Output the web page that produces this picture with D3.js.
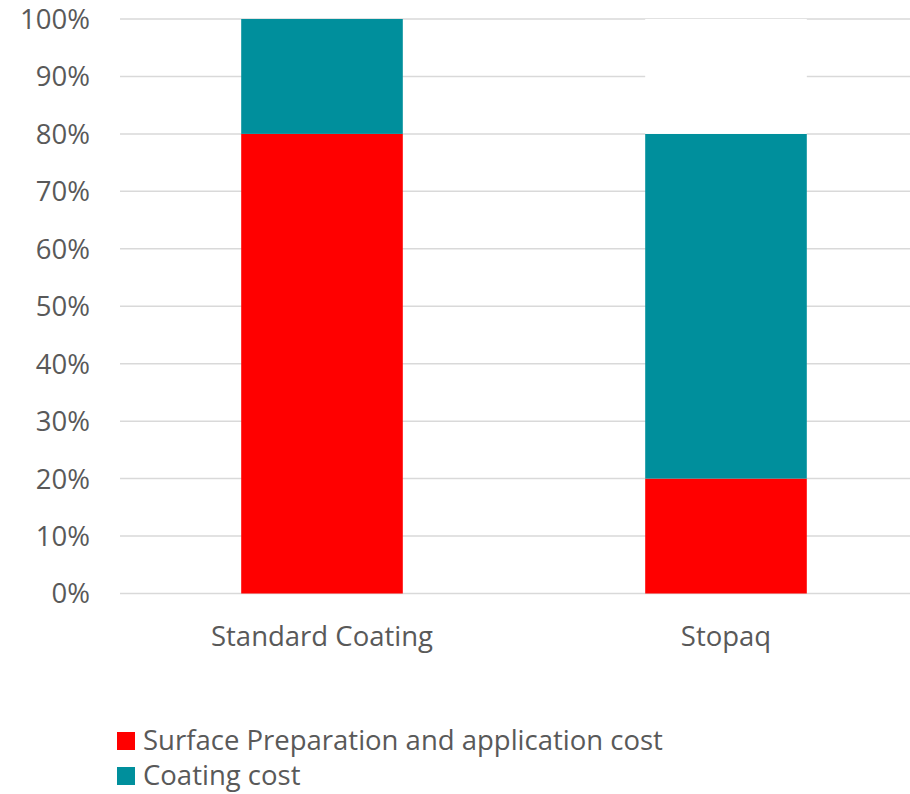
<!DOCTYPE html>
<html>
<head>
<meta charset="utf-8">
<script src="https://cdn.jsdelivr.net/npm/d3@7"></script>
<style>
  body { margin: 0; background: #fff; }
  svg { display: block; font-family: "Open Sans", sans-serif; }
</style>
</head>
<body>
<div id="chart"></div>
<script>
// ========================
// Data
// ========================
const categories = ["Standard Coating", "Stopaq"];
const surfacePrep = [0.8, 0.2];   // Surface Preparation and application cost
const coatingCost = [0.2, 0.6];   // Coating cost
const blankPart = [0, 0.2];       // unlabeled white filler up to 100%
const yTicks = [0, 0.1, 0.2, 0.3, 0.4, 0.5, 0.6, 0.7, 0.8, 0.9, 1.0];

const seriesNames = ["Surface Preparation and application cost", "Coating cost", "blank"];
const seriesColors = ["#ff0000", "#008f9c", "#ffffff"];

// ========================
// Setup
// ========================
const width = 910, height = 794;
const fontSize = "27.5px";
const svg = d3.select("#chart").append("svg")
    .attr("width", width)
    .attr("height", height);

const x = d3.scaleBand()
    .domain(categories)
    .range([120, 928])
    .paddingInner(0.6)
    .paddingOuter(0.3);

const y = d3.scaleLinear()
    .domain([0, 1])
    .range([593.5, 19]);

// table for the stack
const table = categories.map((c, i) => ({
    category: c,
    "Surface Preparation and application cost": surfacePrep[i],
    "Coating cost": coatingCost[i],
    "blank": blankPart[i]
}));
const stacked = d3.stack().keys(seriesNames)(table);

// --- Gridlines ---
svg.append("g")
    .selectAll("line")
    .data(yTicks)
    .join("line")
    .attr("x1", 120).attr("x2", width)
    .attr("y1", d => y(d)).attr("y2", d => y(d))
    .attr("stroke", "#d9d9d9")
    .attr("stroke-width", 1.5);

// --- Y tick labels ---
svg.append("g")
    .selectAll("text")
    .data(yTicks)
    .join("text")
    .attr("x", 90)
    .attr("y", d => y(d))
    .attr("dy", "0.36em")
    .attr("text-anchor", "end")
    .attr("fill", "#595959")
    .style("font-size", fontSize)
    .text(d => d3.format(".0%")(d));

// --- Bars ---
svg.append("g")
    .selectAll("g")
    .data(stacked)
    .join("g")
    .attr("fill", (d, i) => seriesColors[i])
    .selectAll("rect")
    .data(d => d)
    .join("rect")
    .attr("x", d => x(d.data.category))
    .attr("width", x.bandwidth())
    .attr("y", d => y(d[1]))
    .attr("height", d => y(d[0]) - y(d[1]));

// --- Category labels ---
svg.append("g")
    .selectAll("text")
    .data(categories)
    .join("text")
    .attr("x", d => x(d) + x.bandwidth() / 2)
    .attr("y", 646)
    .attr("text-anchor", "middle")
    .attr("fill", "#595959")
    .style("font-size", fontSize)
    .text(d => d);

// --- Legend (blank filler not listed) ---
const legend = svg.append("g")
    .selectAll("g")
    .data(seriesNames.slice(0, 2))
    .join("g")
    .attr("transform", (d, i) => `translate(117,${732 + i * 35})`);

legend.append("rect")
    .attr("width", 18)
    .attr("height", 18)
    .attr("fill", (d, i) => seriesColors[i]);

legend.append("text")
    .attr("x", 26)
    .attr("y", 9)
    .attr("dy", "0.34em")
    .attr("fill", "#595959")
    .style("font-size", fontSize)
    .text(d => d);
</script>
</body>
</html>
